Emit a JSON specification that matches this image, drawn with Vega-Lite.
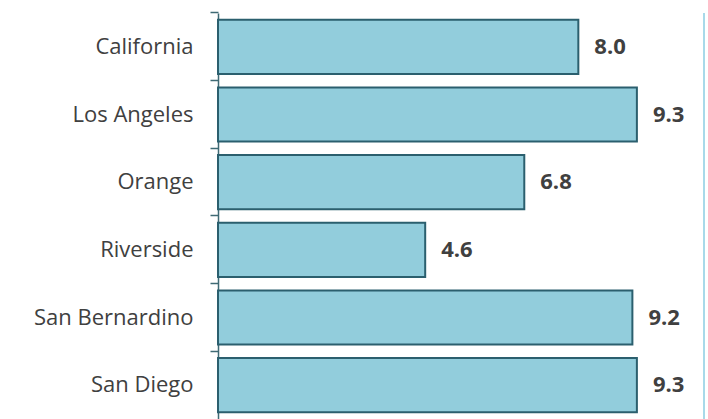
{
  "$schema": "https://vega.github.io/schema/vega-lite/v6.json",
  "autosize": {"type": "none"},
  "padding": {"left": 218, "top": 13, "right": 4, "bottom": 0},
  "width": 486,
  "height": 406,
  "background": "white",
  "config": {"view": {"stroke": null}, "font": "Open Sans"},
  "data": {
    "values": [
      {"region": "California", "value": 8.0},
      {"region": "Los Angeles", "value": 9.3},
      {"region": "Orange", "value": 6.8},
      {"region": "Riverside", "value": 4.6},
      {"region": "San Bernardino", "value": 9.2},
      {"region": "San Diego", "value": 9.3}
    ]
  },
  "encoding": {
    "y": {
      "field": "region",
      "type": "nominal",
      "sort": null,
      "scale": {"paddingInner": 0.2, "paddingOuter": 0.1},
      "axis": {
        "title": null,
        "labelFont": "Open Sans",
        "labelFontSize": 22,
        "labelColor": "#404040",
        "labelPadding": 17,
        "tickSize": 8,
        "tickColor": "#3F6A74",
        "tickWidth": 1.5,
        "domainColor": "#3F6A74",
        "domainWidth": 1.5,
        "bandPosition": -0.125,
        "grid": false
      }
    }
  },
  "layer": [
    {
      "mark": {"type": "bar", "fill": "#92CDDC", "stroke": "#2B5F6E", "strokeWidth": 2},
      "encoding": {
        "x": {
          "field": "value",
          "type": "quantitative",
          "scale": {"domain": [0, 10.79], "nice": false, "zero": true},
          "axis": null
        }
      }
    },
    {
      "mark": {"type": "text", "align": "left", "baseline": "middle", "dx": 16, "font": "Open Sans", "fontSize": 22, "fontWeight": "bold", "color": "#404040"},
      "encoding": {
        "x": {"field": "value", "type": "quantitative"},
        "text": {"field": "value", "type": "quantitative", "format": ".1f"}
      }
    },
    {
      "mark": {"type": "rule", "color": "#A9D8E8", "strokeWidth": 1.5},
      "encoding": {"x": {"datum": 10.79}, "y": null}
    }
  ]
}
